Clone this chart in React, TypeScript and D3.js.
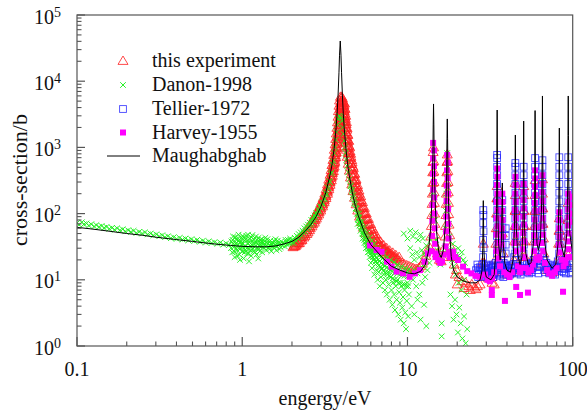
import React from "react";
import * as d3 from "d3";

const W = 587;
const H = 415;
const PL = 77, PR = 572.7, PT = 15, PB = 346;

const xTickValues = [0.1, 1, 10, 100];
const xTickLabels = ["0.1", "1", "10", "100"];
const yTickExponents = [0, 1, 2, 3, 4, 5];
const seriesNames = ["this experiment", "Danon-1998", "Tellier-1972", "Harvey-1955", "Maughabghab"];
const xTitle = "engergy/eV";
const yTitle = "cross-section/b";

type P = [number, number];

const maughabghab: P[] = [
  [0.1,62],[0.12,59],[0.15,55],[0.2,50],[0.25,47],[0.3,44],[0.4,40.5],[0.5,38],[0.6,36],[0.7,34.5],[0.85,33],[1.0,32],[1.2,31.5],[1.4,31.5],[1.6,32.5],[1.8,35],[2.0,38],[2.2,44],[2.4,54],[2.6,68],[2.8,90],[3.0,129],[3.2,205],[3.4,383],[3.5,565],[3.6,962],[3.7,1985],[3.75,3217],[3.8,5990],[3.85,13650],[3.88,24700],[3.92,40500],[3.96,24700],[3.99,13650],[4.04,5990],[4.09,3217],[4.14,1985],[4.24,962],[4.34,565],[4.44,383],[4.64,205],[4.84,129],[5.0,98],[5.5,51],[6.0,34],[7.0,22],[8.0,16],[9.0,14],[10,12.7],[11,12.3],[12,13.4],[12.8,16.7],[13.4,27],[13.8,58],[14.0,122],[14.15,297],[14.25,790],[14.32,2250],[14.38,4530],[14.44,2250],[14.51,790],[14.61,297],[14.76,122],[15.0,53],[15.5,25.5],[16.0,21.7],[16.5,28],[16.9,60],[17.1,134],[17.25,400],[17.35,1345],[17.42,2690],[17.49,1345],[17.59,400],[17.74,134],[17.94,60],[18.4,22.5],[19,14],[20,11],[22,9.5],[24,9],[26,9],[27.5,10],[28.3,14],[28.55,30],[28.68,80],[28.77,157],[28.86,80],[29.0,30],[29.4,14],[30,11],[32,10],[33.5,12],[34.2,25],[34.6,120],[34.78,700],[34.9,3670],[35.02,700],[35.2,120],[35.6,35],[36.4,20],[37.0,35],[37.3,110],[37.5,290],[37.7,110],[38.0,35],[38.8,18],[40,14],[42,13],[43.6,20],[44.4,60],[44.75,250],[44.97,1540],[45.2,250],[45.6,60],[46.5,24],[48,17],[49.3,22],[50.0,70],[50.3,350],[50.5,2500],[50.7,350],[51.0,70],[52,25],[54,17],[56,18],[57.8,35],[58.7,130],[59.0,600],[59.2,3600],[59.4,600],[59.7,130],[60.8,35],[62,28],[63.8,40],[64.9,150],[65.35,800],[65.6,5980],[65.85,800],[66.3,150],[67.5,40],[70,20],[75,15],[79,17],[81.5,35],[82.4,150],[82.8,600],[83.0,1960],[83.2,600],[83.6,150],[85,35],[89,22],[92.2,50],[93.3,300],[93.7,1500],[94.0,5980],[94.3,1500],[94.7,300],[96,50],[100,25]
];

const thisExperiment: P[] = [
  // rising side of 3.9 eV resonance
  [2.03,31],[2.12,33],[2.10,35.5],[2.22,36],[2.18,39],[2.30,40],[2.26,44],[2.40,46],[2.36,50],[2.50,52],[2.45,57],[2.58,60],[2.54,65],[2.67,69],[2.63,75],[2.76,79],[2.71,86],[2.84,91],[2.79,99],[2.92,104],[2.87,113],[2.99,119],[2.95,130],[3.07,137],[3.02,150],[3.14,158],[3.09,172],[3.21,183],[3.16,200],[3.28,213],[3.22,234],[3.34,250],[3.28,275],[3.40,295],[3.34,325],[3.46,348],[3.40,385],[3.51,410],[3.45,455],[3.56,490],[3.49,540],[3.60,580],[3.54,645],[3.64,700],[3.58,770],[3.68,840],[3.61,920],[3.71,1010],[3.65,1110],[3.75,1220],[3.68,1340],[3.78,1480],[3.71,1620],[3.81,1790],[3.74,1970],[3.84,2170],[3.77,2390],[3.87,2630],[3.80,2900],[3.90,3200],[3.82,3520],[3.93,3870],[3.85,4250],[3.95,4680],[3.88,5100],[3.97,5500],[3.93,5800],[4.00,5800],[4.04,5500],
  [2.07,33],[2.16,37],[2.24,41.5],[2.33,47],[2.43,53],[2.52,61],[2.61,70],[2.70,80],[2.78,92],[2.87,106],[2.95,122],[3.03,140],[3.10,162],[3.18,188],[3.25,220],[3.31,258],[3.37,300],[3.43,350],[3.48,410],[3.53,480],[3.57,560],[3.61,650],[3.65,760],[3.68,890],[3.71,1040],[3.74,1220],[3.77,1430],[3.80,1680],[3.83,1980],[3.86,2330],[3.89,2750],[3.91,3250],[3.93,3800],[3.95,4400],[3.97,5000],
  [2.05,32],[2.14,35],[2.21,39.5],[2.29,44],[2.38,49.5],[2.47,56],[2.56,64],[2.65,73],[2.74,84],[2.82,97],[2.90,111],[2.98,127],[3.06,146],[3.13,168],[3.20,194],[3.27,226],[3.33,265],[3.39,310],[3.45,365],[3.50,430],[3.55,505],[3.59,595],[3.63,700],[3.66,820],[3.70,960],[3.73,1130],[3.76,1320],[3.79,1550],[3.82,1830],[3.85,2150],[3.88,2530],[3.90,3000],[3.92,3500],[3.94,4100],[3.96,4700],
  [2.09,32],[2.19,35.5],[2.27,39],[2.36,43.5],[2.46,49],[2.55,56],[2.64,64],[2.73,73],[2.81,84],[2.90,97],[2.98,111],[3.06,128],[3.13,148],[3.21,171],[3.28,199],[3.34,233],[3.40,272],[3.46,318],[3.51,373],[3.56,438],[3.60,515],[3.64,605],[3.68,710],[3.71,835],[3.74,980],[3.77,1150],[3.80,1350],[3.83,1590],[3.86,1880],[3.89,2220],[3.92,2620],[3.94,3100],[3.96,3650],[3.98,4300],[4.00,5000],
  // falling side
  [4.08,4800],[4.12,4300],[4.05,4000],[4.14,3500],[4.08,3200],[4.17,2800],[4.11,2500],[4.20,2200],[4.14,1950],[4.24,1700],[4.18,1500],[4.28,1330],[4.22,1180],[4.33,1040],[4.27,920],[4.38,810],[4.32,720],[4.44,640],[4.38,565],[4.51,500],[4.45,445],[4.58,395],[4.52,350],[4.66,310],[4.60,275],[4.75,245],[4.68,218],[4.85,195],[4.78,173],[4.96,155],[4.89,138],[5.08,124],[5.00,111],[5.21,100],[5.13,90],[5.36,81],[5.27,74],[5.52,67],[5.42,61],[5.70,56],[5.60,51],[5.90,48],[5.79,44],[6.12,42],[6.00,38.5],[6.36,37],[6.24,34],[6.62,33],[6.50,30.5],[6.90,30],
  [4.16,4600],[4.19,3800],[4.23,3000],[4.27,2400],[4.31,1950],[4.36,1550],[4.41,1250],[4.47,1000],[4.53,800],[4.60,640],[4.68,510],[4.77,400],[4.87,315],[4.98,250],[5.10,200],[5.23,160],[5.37,128],[5.52,103],[5.68,84],[5.86,69],[6.05,57],[6.26,48],[6.48,41],[6.72,36],[6.98,32],[7.25,29],[7.55,26.5],[7.85,24.5],[8.2,22.5],[8.6,21],
  [4.10,4400],[4.13,3700],[4.16,3000],[4.19,2500],[4.23,2000],[4.27,1600],[4.31,1300],[4.36,1050],[4.41,860],[4.47,700],[4.54,560],[4.61,450],[4.69,360],[4.78,290],[4.88,230],[4.98,185],[5.10,148],[5.22,120],[5.35,98],[5.50,80],[5.66,66],[5.83,55],[6.02,46.5],[6.22,40],[6.44,35],[6.68,31.5],[6.93,28.5],[7.2,26],[7.5,24],[7.8,22.5],[8.1,21],
  [4.06,5100],[4.09,4200],[4.12,3550],[4.15,2950],[4.18,2450],[4.22,2050],[4.25,1700],[4.29,1420],[4.34,1180],[4.39,980],[4.44,820],[4.50,680],[4.57,560],[4.64,465],[4.72,385],[4.81,318],[4.90,262],[5.00,216],[5.11,178],[5.23,146],[5.36,120],[5.50,99],[5.65,82],[5.82,68],[6.00,57],[6.20,48],[6.42,41],[6.66,35.5],[6.92,31.5],[7.2,28.5],[7.5,26],[7.8,24],[8.15,22],[8.5,20.5],
  [4.12,4700],[4.15,3900],[4.18,3250],[4.21,2700],[4.25,2250],[4.29,1850],[4.33,1530],[4.38,1270],[4.43,1050],[4.49,870],[4.55,720],[4.62,590],[4.70,485],[4.79,400],[4.88,330],[4.98,270],[5.09,222],[5.21,182],[5.34,149],[5.48,122],[5.63,100],[5.80,83],[5.98,69],[6.18,58],[6.40,49],[6.64,42],[6.90,37],[7.18,33],[7.48,30],[7.8,27.5],[8.15,25.5],[8.5,23.5],[8.9,22],
  // sparse 7-13 eV
  [7.2,29],[7.5,27],[7.8,25],[8.1,23],[8.4,21.5],[8.7,20],[9.0,19],[9.3,18],[9.6,17],[9.9,16.5],[10.2,16],[10.5,15.5],[10.8,15],[11.1,14.5],[11.4,14.5],[11.7,15],[12.0,16],[12.3,17.5],[12.6,19.5],[12.9,23],[13.2,28],
  // 14.4 eV
  [13.7,30],[14.9,32],[13.85,45],[14.75,48],[13.95,65],[14.65,70],[14.05,95],[14.6,100],[14.1,140],[14.55,145],[14.15,200],[14.5,210],[14.2,290],[14.47,300],[14.22,420],[14.45,430],[14.25,600],[14.42,620],[14.3,850],[14.38,1000],
  [15.2,25],[15.6,20],[16.0,19],[16.3,22],
  // 17.4 eV
  [16.7,30],[18.2,32],[16.9,45],[18.0,47],[17.0,65],[17.85,68],[17.1,95],[17.75,98],[17.15,140],[17.7,145],[17.2,200],[17.65,210],[17.25,290],[17.6,300],[17.3,420],[17.55,440],[17.35,600],[17.5,620],[17.42,780],
  [18.6,22],[19.2,17],[19.5,12],[19.8,14],[20.0,8.5],[20.5,11],[21.5,9.5],[22.0,7.5],[22.5,9],[23.5,8],[24.0,7],[24.5,8.5],[25.5,7.6],[26.0,7.2],[26.5,8],[27.5,8.5],
  // high energy resonances
  [28.4,18],[29.1,18],[28.77,35],
  [32.5,9],[33.5,8.5],
  [34.0,20],[35.8,20],[34.3,35],[35.5,35],[34.5,60],[35.3,60],[34.6,100],[35.2,100],[34.75,170],[35.05,170],[34.9,260],
  [37.0,25],[38.0,25],[37.5,50],
  [44.0,20],[46.0,22],[44.4,38],[45.6,38],[44.6,65],[45.4,65],[44.8,110],[45.2,110],[45.0,190],[44.9,290],
  [49.6,22],[51.4,22],[49.9,38],[51.1,38],[50.1,65],[50.9,65],[50.3,110],[50.7,110],[50.5,190],[50.5,260],
  [58.0,22],[60.4,22],[58.4,38],[60.0,38],[58.7,65],[59.7,65],[58.9,110],[59.5,110],[59.1,190],[59.3,320],
  [64.3,25],[67.0,25],[64.8,42],[66.5,42],[65.1,70],[66.1,70],[65.3,120],[65.9,120],[65.6,200],[65.6,330],
  [81.5,20],[84.5,20],[82.2,35],[83.8,35],[82.6,55],[83.4,55],[83.0,85],
  [92.5,25],[95.5,25],[93.2,45],[94.8,45],[93.6,80],[94.4,80],[94.0,145],
  [29.5,11],[31,10.5],[32.5,11],[33.5,13],[36.5,15],[38.5,14],[40,12],[42,12.5],[43.5,15],[47.5,14],[53,14],[55.5,15],[62,17],[69,14],[73,13],[77,13],[80,15],[87,16],[90,18],[98,18]
];

const danon: P[] = [
  // low energy band
  [0.100,72],[0.103,68],[0.107,74],[0.110,69],[0.114,71],[0.118,66],[0.122,69],[0.127,64],[0.131,67],[0.136,63],[0.141,65],[0.146,61],[0.151,63],[0.157,59],[0.163,61],[0.169,57],[0.175,60],[0.182,56],[0.189,58],[0.196,54],[0.204,56],[0.212,53],[0.220,55],[0.229,51],[0.238,53],[0.248,50],[0.258,52],[0.268,48.5],[0.279,50],[0.290,47],[0.302,48.5],[0.315,45.5],[0.328,47],[0.341,44],[0.355,45.5],[0.370,42.5],[0.385,44],[0.401,41.5],[0.418,43],[0.435,40.5],[0.453,42],[0.472,39.5],[0.492,41],[0.512,38.5],[0.533,40],[0.555,37.5],[0.578,39],[0.602,36.5],[0.627,38],[0.653,36],[0.680,37],[0.708,35],[0.737,36.5],[0.768,34],[0.800,35.5],[0.833,33.5],
  // wide cloud 0.85-2 eV
  [0.86,38],[0.87,26],[0.88,45],[0.89,31],[0.90,22],[0.91,35],[0.92,41],[0.93,28],[0.94,33],[0.95,48],[0.96,24],[0.97,37],[0.98,30],[0.99,43],[1.00,27],[1.01,35],[1.02,21],[1.03,39],[1.05,32],[1.06,46],[1.07,25],[1.08,36],[1.10,29],[1.11,42],[1.13,23],[1.14,34],[1.16,38],[1.17,27],[1.19,31],[1.21,45],[1.22,24],[1.24,35],[1.26,29],[1.28,40],[1.30,33],[1.32,26],[1.34,37],[1.36,30],[1.38,43],[1.40,28],[1.43,35],[1.45,31],[1.48,39],[1.50,27],[1.53,34],[1.56,30],[1.59,41],[1.62,32],[1.65,36],[1.68,29],[1.72,38],[1.75,33],[1.79,35],[1.83,40],[1.87,34],[1.91,37],[1.95,42],[1.99,36],
  [0.88,35],[0.92,30],[0.95,39],[0.99,34],[1.02,44],[1.04,28],[1.09,40],[1.12,32],[1.15,47],[1.18,35],[1.23,40],[1.27,33],[1.31,38],[1.35,34],[1.41,37],[1.47,33],[1.52,37],[1.58,34],[1.64,39],[1.70,35],[0.97,20],[1.10,19],[1.25,21],
  [0.855,30],[0.875,40],[0.895,27],[0.905,44],[0.925,36],[0.935,23],[0.945,42],[0.965,29],[0.985,38],[1.005,46],[1.015,31],[1.035,26],[1.045,41],[1.065,30],[1.085,48],[1.095,25],[1.105,37],[1.125,28],[1.135,44],[1.155,30],[1.175,41],[1.195,26],[1.215,36],[1.235,30],[1.255,43],[1.275,27],[1.295,36],[1.315,41],[1.335,31],[1.37,38],[1.39,32],[1.42,41],[1.46,29],[1.49,35],[1.54,31],[1.57,38],[1.61,28],[1.66,33],[1.71,31],[1.77,36],[1.81,32],[1.85,37],[1.89,40],[1.93,35],[1.97,39],
  // rising side
  [2.02,40],[2.05,36],[2.08,43],[2.11,39],[2.14,46],[2.17,42],[2.20,49],[2.23,44],[2.26,52],[2.29,47],[2.32,55],[2.35,51],[2.38,60],[2.41,54],[2.44,64],[2.47,58],[2.50,68],[2.53,62],[2.56,73],[2.59,67],[2.62,80],[2.65,72],[2.68,86],[2.71,79],[2.74,94],[2.77,87],[2.80,102],[2.84,97],[2.88,115],[2.92,108],[2.96,130],[3.00,122],[3.04,148],[3.08,140],[3.12,172],[3.16,165],[3.20,205],[3.24,195],[3.28,250],[3.32,240],[3.36,310],[3.40,300],[3.44,400],[3.48,420],[3.52,560],[3.56,620],[3.60,820],[3.64,1000],[3.68,1300],[3.72,1700],[3.76,2200],[3.80,2700],
  // peak and falling side
  [3.86,3000],[3.92,2900],[3.98,2800],[4.03,2500],[4.06,2000],[4.10,1600],[4.14,1250],[4.18,1000],[4.22,820],[4.27,650],[4.32,520],[4.38,420],[4.45,330],[4.52,270],[4.60,215],[4.68,175],[4.77,145],[4.86,120],[4.96,100],[5.06,85],[5.17,72],
  [4.55,260],[4.62,230],[4.70,190],[4.78,160],[4.85,140],[4.92,118],[5.00,100],[5.08,88],[5.15,75],[5.22,68],[5.30,60],[5.38,54],[5.45,50],[5.52,45],[5.60,42],[5.68,38],[5.76,35],[5.85,33],[5.95,30],[6.05,28],[6.15,26],[6.25,24.5],[6.35,23],[6.5,21.5],[6.65,20],[6.8,19],[6.95,18],[7.1,17],[7.3,16],[7.5,15.5],[7.7,14.5],[7.9,14],[8.1,13.5],[8.4,13],[8.7,12.5],[9.0,12],[9.3,11.8],[9.6,11.5],[10.0,11.2],
  [5.1,100],[5.3,75],[5.5,62],[5.7,52],[5.9,44],[6.1,39],[6.3,35],[6.6,30],[6.9,27],[7.2,25],[7.5,22],[7.9,20],[8.3,18.5],[8.7,17],[9.2,16],[9.7,15],[10.2,14.5],
  [5.05,80],[5.12,66],[5.25,62],[5.33,50],[5.42,47],[5.48,40],[5.57,38],[5.65,34],[5.72,31],[5.8,29],[5.88,27],[5.98,25],[6.08,23],[6.18,22],[6.28,20.5],[6.42,19],[6.55,18],[6.7,16.5],[6.85,15.5],[7.0,14.5],[7.15,13.5],[7.35,13],[7.55,12],[7.75,11.5],[7.95,11],[8.15,10.5],[8.35,10],[8.6,9.5],[8.85,9],[9.1,9],[9.35,8.5],[9.6,8.5],[9.85,8],[10.1,8],
  [6.25,28],[6.45,25],[6.75,23],[7.05,21],[7.35,19.5],[7.65,18],[8.0,17],[8.45,15.5],[8.95,14.5],[9.45,13.5],[9.95,13],
  [5.0,70],[5.2,55],[5.35,42],[5.5,36],[5.6,30],[5.75,26],[5.9,22],[6.0,18],[6.1,15],[6.2,20],[6.3,12],[6.4,17],[6.5,14],[6.6,10],[6.7,13],[6.8,8],[6.9,11],[7.0,15],[7.1,9],[7.2,12],[7.3,7],[7.4,10],[7.5,6],[7.6,13],[7.7,8.5],[7.8,5],[7.9,11],[8.0,7],[8.1,4.2],[8.2,9],[8.3,6],[8.4,3.5],[8.5,8],[8.6,5],[8.7,10],[8.8,3],[8.9,6.5],[9.0,4.5],[9.1,2.5],[9.2,8],[9.3,3.8],[9.4,5.5],[9.5,2.2],[9.6,7],[9.7,3.2],[9.8,1.8],[9.9,4.8],[10.0,9],[10.1,2.8],[10.2,6],
  // 10-14 eV
  [9.5,50],[10.0,42],[10.4,55],[10.8,45],[11.2,52],[11.6,40],[12.0,48],[12.4,42],
  [10.5,12],[10.8,10],[11.0,14],[11.3,8],[11.5,12.5],[11.8,6],[12.0,15],[12.3,9],[12.5,17],[12.8,11],[13.0,22],[13.2,14],[13.4,28],[13.6,18],[13.8,40],
  [10.4,30],[10.7,24],[11.0,20],[11.4,26],[11.8,22],[12.2,28],[12.6,25],[13.0,33],
  [10.6,4],[11.0,3],[11.5,5],[12.0,2.5],[12.6,4.2],[13.0,2],
  [14.0,45],[14.15,90],[14.25,200],[14.5,180],[14.65,80],[14.9,40],[15.2,28],[15.5,22],[15.8,17],[16.1,20],[16.4,25],
  [16.1,2.2],[16.1,1.4],
  [16.8,30],[17.0,60],[17.1,110],[17.2,200],[17.3,400],[17.4,820],[17.5,500],[17.6,250],[17.7,130],[17.85,70],[18.0,45],[18.3,28],[18.6,20],[19.0,16],
  [18.8,35],[19.3,28],[19.8,24],[20.3,30],[20.8,22],[21.3,26],[21.8,20],[22.3,18],
  [18.2,6],[18.6,4],[19.0,2.5],[19.4,5],[19.8,3],[20.2,1.6],[20.6,3.8],[21.0,2.2],[21.5,1.3],[22.0,2.8],[22.5,1.1],[23.0,1.8],[19.6,12],[20.4,9],[21.2,7],[22.0,10],[22.8,6]
];

const tellier: P[] = [
  // baseline
  [26.0,14],[26.5,17],[27.0,12],[27.5,15.5],[28.0,13],[28.3,17],[29.3,16],[29.7,12.5],[30.2,14.5],[30.7,11.5],[31.2,16.5],[31.7,13],[32.2,15],[32.7,12],[33.2,17],[33.7,14],[34.2,18],[35.7,18],[36.2,14],[36.7,16.5],[37.0,20],[38.2,18],[38.7,14],[39.2,16],[39.7,12.5],[40.3,15],[40.9,12],[41.5,16],[42.1,13],[42.8,15],[43.5,17],[44.2,22],[45.8,20],[46.5,15],[47.2,13],[48.0,16],[48.8,13.5],[49.6,18],[51.4,18],[52.3,15],[53.2,13],[54.1,16],[55.0,14],[56.0,17],[57.0,15],[58.0,20],[60.4,19],[61.5,16],[62.6,19],[63.7,22],[67.5,20],[68.7,16],[70.0,14],[71.5,17],[73.0,13],[74.5,15],[76.0,12.5],[77.5,16],[79.0,14],[80.5,17],[85.5,18],[87.0,15],[88.5,13],[90.0,17],[91.5,20],[96.5,18],[98.0,15],[99.5,13],
  [26.8,11],[28.6,11.5],[30.0,11],[31.5,10.5],[33.0,11],[35.0,12],[36.5,11.5],[38.0,11],
  [26.3,12.5],[26.7,15],[27.2,13.5],[27.7,12],[28.1,15],[29.5,14],[29.9,17],[30.4,12.5],[30.9,15],[31.4,12.5],[31.9,16],[32.4,13.5],[32.9,15.5],[33.4,12.5],[33.9,16],[35.5,15],[35.9,12.5],[36.4,17],[36.9,13],[38.0,15],[38.4,12],[38.9,17],[39.4,13.5],[39.9,16],[40.6,13.5],[41.2,15],[41.8,12],[42.5,16.5],[43.2,13],[44.0,15],[46.2,12.5],[46.8,16],[47.6,14.5],[48.4,12],[49.2,15],[52.8,17],[53.7,14.5],[54.6,12.5],[55.5,16],[56.5,13],[57.5,18],[61.0,14],[62.0,12.5],[63.2,15.5],[64.2,17],[68.0,13],[69.3,18],[70.8,15.5],[72.2,12.5],[73.8,16.5],[75.2,13.5],[76.8,14.5],[78.2,12],[79.8,15.5],[81.2,19],[84.5,16],[86.2,13.5],[87.8,17],[89.2,14.5],[90.8,12.5],[92.3,16],[95.8,15],[97.2,12.5],[98.8,17],
  // stacks
  [28.7,22],[28.85,30],[28.7,40],[28.85,54],[28.75,72],[28.8,95],[28.77,113],
  [34.8,25],[35.0,34],[34.8,46],[35.0,62],[34.85,84],[34.95,113],[34.85,153],[34.95,207],[34.88,280],[34.92,380],[34.9,510],[34.9,690],[34.9,770],
  [37.4,25],[37.6,34],[37.45,46],[37.55,62],[37.5,84],[37.5,113],[37.5,160],
  [39.3,25],[39.3,34],[39.3,46],[39.3,60],
  [44.9,25],[45.1,34],[44.9,46],[45.05,62],[44.95,84],[45.0,113],[44.95,153],[45.0,207],[45.0,280],[44.97,380],[44.97,510],[44.97,580],
  [50.4,25],[50.6,34],[50.4,46],[50.6,62],[50.45,84],[50.55,113],[50.5,153],[50.5,207],[50.5,280],[50.5,380],[50.5,510],
  [59.0,25],[59.4,34],[59.1,46],[59.3,62],[59.1,84],[59.3,113],[59.2,153],[59.2,207],[59.2,280],[59.2,380],[59.2,510],[59.2,690],
  [65.4,25],[65.8,34],[65.5,46],[65.7,62],[65.5,84],[65.7,113],[65.6,153],[65.6,207],[65.6,280],[65.6,380],[65.6,510],[65.6,640],
  [82.8,25],[83.2,34],[82.9,46],[83.1,62],[83.0,84],[83.0,113],[83.0,153],[83.0,207],[83.0,280],[83.0,380],[83.0,510],[83.0,710],
  [93.8,25],[94.2,34],[93.9,46],[94.1,62],[94.0,84],[94.0,113],[94.0,153],[94.0,207],[94.0,280],[94.0,380],[94.0,510],[94.0,710]
];

const harvey: P[] = [
  [5.93,33],[6.5,28.2],[6.97,26.5],[7.53,18.8],[8.0,15.8],[8.6,13.3],[9.4,12.5],[10.3,11.1],[11.1,12.5],[11.9,14.0],[12.7,18.8],[13.3,25],
  [14.3,1170],[14.45,900],[14.3,680],[14.45,520],[14.3,400],[14.45,300],[14.3,230],[14.5,175],[14.2,135],[14.55,100],[14.15,78],[14.6,60],[14.1,46],[14.7,35],[14.0,27],[14.8,22],
  [15.0,25],[15.4,20],[15.8,18],[16.2,19],[16.6,24],
  [17.4,770],[17.5,590],[17.35,450],[17.5,345],[17.3,265],[17.55,200],[17.25,155],[17.6,118],[17.2,90],[17.65,70],[17.1,54],[17.75,42],[17.0,32],[17.85,26],[18.1,22],
  [18.9,26.6],[19.5,22],[20.2,19.9],[21.7,15.8],[23.0,13.5],[24.4,12.5],[25.8,11.5],[27.3,11.1],
  [34.9,480],[35.0,360],[34.8,270],[35.0,200],[34.8,150],[35.05,113],[34.7,85],[35.1,64],[34.6,48],[35.2,36],[34.5,27],[35.4,21],
  [37.5,200],[37.6,150],[37.4,110],[37.6,80],[37.3,60],[37.7,45],[37.2,34],
  [45.0,360],[45.1,270],[44.9,200],[45.1,150],[44.8,113],[45.2,85],[44.7,64],[45.3,48],[44.5,36],[45.5,27],
  [50.5,280],[50.6,210],[50.4,160],[50.6,120],[50.3,90],[50.7,68],[50.2,51],[50.9,38],[50.0,29],[51.1,22],
  [59.2,450],[59.3,340],[59.1,255],[59.3,190],[59.0,145],[59.4,110],[58.9,82],[59.6,62],[58.7,47],[59.8,36],[58.4,27],[60.2,21],
  [65.6,380],[65.7,280],[65.5,210],[65.7,155],[65.4,115],[65.8,85],[65.3,64],[66.0,48],[65.1,36],[66.3,27],
  [83.0,105],[83.1,80],[82.9,60],[83.2,45],[82.7,34],[83.5,26],
  [94.0,200],[94.1,150],[93.9,115],[94.2,88],[93.7,66],[94.4,50],[93.5,38],[94.6,29],[93.2,22],
  [99.0,180],[99.0,135],[99.0,100],[99.0,75],
  [29.5,12],[30.5,10],[31.5,9.5],[32.5,10.5],[33.5,13],[36.3,16],[38.5,13],[40.0,12],[41.5,11],[43.0,13],[46.5,16],[48.0,13],[49.0,15],[52.0,15],[54.0,13],[56.0,14],[57.5,17],[61.5,20],[63.0,22],[68.0,18],[70.0,14],[72.0,12.5],[75.0,11.5],[78.0,13],[80.0,15],[86.0,20],[88.0,16],[90.5,18],[97.0,22],
  [32.4,5.9],[32.4,7],[38.9,4.8],[45.5,7.8],[48.0,5.9],[53.6,6.4],[87.4,6.6]
];

const FONT = "'Liberation Serif', 'Times New Roman', Times, serif";
const RED = "#ff2020";
const GREEN = "#1cf01c";
const BLUE = "#2424ff";
const MAGENTA = "#ff00ff";
const AXIS = "#555";

const tri = "M0,-5L5,3.4L-5,3.4Z";

export default function App() {
  const x = d3.scaleLog().domain([0.1, 100]).range([PL, PR]);
  const y = d3.scaleLog().domain([1, 1e5]).range([PB, PT]);
  const line = d3.line<P>().x((d) => x(d[0])).y((d) => y(d[1]));

  const xMinor = x.ticks().filter((v) => !xTickValues.some((t) => Math.abs(t - v) / t < 1e-6));
  const yAll = y.ticks();
  const yMajorVals = yTickExponents.map((e) => Math.pow(10, e));
  const yMinor = yAll.filter((v) => !yMajorVals.some((t) => Math.abs(t - v) / t < 1e-6));

  const redMark = (cx: number, cy: number, k: string | number) => (
    <path key={k} d={tri} transform={`translate(${cx},${cy})`} fill="none" stroke={RED} strokeOpacity={0.9} strokeWidth={0.9} />
  );
  const greenMark = (cx: number, cy: number, k: string | number) => (
    <path key={k} d="M-2.8,-2.8L2.8,2.8M-2.8,2.8L2.8,-2.8" transform={`translate(${cx},${cy})`} stroke={GREEN} strokeWidth={0.95} fill="none" />
  );
  const blueMark = (cx: number, cy: number, k: string | number) => (
    <rect key={k} x={cx - 3.4} y={cy - 3.4} width={6.8} height={6.8} fill="none" stroke={BLUE} strokeOpacity={0.85} strokeWidth={0.9} />
  );
  const magMark = (cx: number, cy: number, k: string | number) => (
    <rect key={k} x={cx - 3} y={cy - 3} width={6} height={6} fill={MAGENTA} />
  );

  const legendY = [61, 85, 109, 132.5, 156];
  const legendText = [67, 91, 115, 138.5, 162];

  return (
    <svg width={W} height={H} style={{ position: "absolute", left: 0, top: 0, background: "#fff" }} fontFamily={FONT}>
      <defs>
        <clipPath id="plotclip">
          <rect x={PL} y={PT} width={PR - PL} height={PB - PT} />
        </clipPath>
      </defs>
      <rect x={0} y={0} width={W} height={H} fill="#fff" />

      <g clipPath="url(#plotclip)">
        <g>{thisExperiment.map((d, i) => redMark(x(d[0]), y(d[1]), i))}</g>
        <g>{danon.map((d, i) => greenMark(x(d[0]), y(d[1]), i))}</g>
        <g>{tellier.map((d, i) => blueMark(x(d[0]), y(d[1]), i))}</g>
        <g>{harvey.map((d, i) => magMark(x(d[0]), y(d[1]), i))}</g>
        <path d={line(maughabghab) || ""} fill="none" stroke="#000" strokeWidth={1} strokeLinejoin="miter" />
      </g>

      {/* frame */}
      <rect x={PL} y={PT} width={PR - PL} height={PB - PT} fill="none" stroke={AXIS} strokeWidth={1.2} />

      {/* x ticks */}
      {xTickValues.map((v, i) => (
        <g key={"xt" + i}>
          <line x1={x(v)} x2={x(v)} y1={PB} y2={PB - 9} stroke={AXIS} strokeWidth={1.2} />
          <text x={x(v)} y={376} fontSize={20} textAnchor="middle" fill="#111">{xTickLabels[i]}</text>
        </g>
      ))}
      {xMinor.map((v, i) => (
        <line key={"xm" + i} x1={x(v)} x2={x(v)} y1={PB} y2={PB - 4.5} stroke={AXIS} strokeWidth={1.1} />
      ))}

      {/* y ticks */}
      {yTickExponents.map((e) => {
        const v = Math.pow(10, e);
        return (
          <g key={"yt" + e}>
            <line x1={PL} x2={PL + 8} y1={y(v)} y2={y(v)} stroke={AXIS} strokeWidth={1.2} />
            <text x={61} y={y(v) + 8.5} fontSize={20} textAnchor="end" fill="#111">
              10<tspan dy={-7} fontSize={14}>{String(e)}</tspan>
            </text>
          </g>
        );
      })}
      {yMinor.map((v, i) => (
        <line key={"ym" + i} x1={PL} x2={PL + 4.5} y1={y(v)} y2={y(v)} stroke={AXIS} strokeWidth={1.1} />
      ))}

      {/* axis titles */}
      <text x={325} y={405} fontSize={20} textAnchor="middle" fill="#111">{xTitle}</text>
      <text transform={`translate(27,180) rotate(-90)`} fontSize={22} textAnchor="middle" fill="#111">{yTitle}</text>

      {/* legend */}
      <g>
        {redMark(123, legendY[0], "l0")}
        {greenMark(123, legendY[1], "l1")}
        {blueMark(123, legendY[2], "l2")}
        {magMark(123, legendY[3], "l3")}
        <line x1={107} x2={140} y1={legendY[4]} y2={legendY[4]} stroke="#000" strokeWidth={1} />
        {seriesNames.map((s, i) => (
          <text key={"lt" + i} x={152} y={legendText[i]} fontSize={20} fill="#111">{s}</text>
        ))}
      </g>
    </svg>
  );
}
